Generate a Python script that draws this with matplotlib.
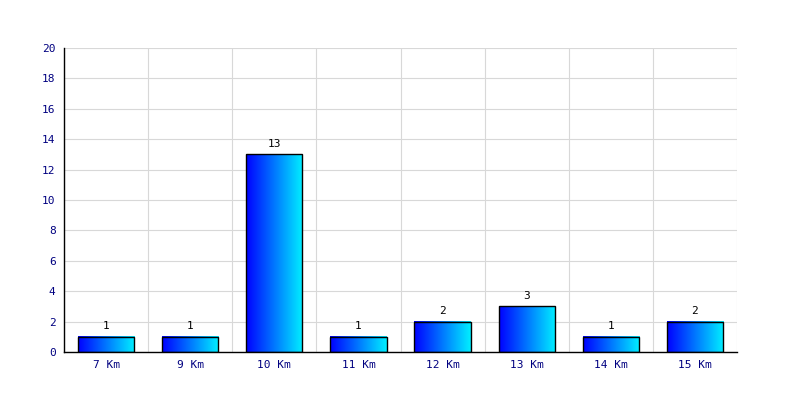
import numpy as np
import matplotlib
matplotlib.use("Agg")
import matplotlib.pyplot as plt
from matplotlib.colors import LinearSegmentedColormap

categories = ["7 Km", "9 Km", "10 Km", "11 Km", "12 Km", "13 Km", "14 Km", "15 Km"]
values = [1, 1, 13, 1, 2, 3, 1, 2]
yticks = list(range(0, 21, 2))

plt.rcParams['font.family'] = ['DejaVu Sans Mono']

fig = plt.figure(figsize=(8, 4), dpi=100)
ax = fig.add_axes([0.08, 0.12, 0.84125, 0.76])

x = np.arange(len(categories))
bar_w = 0.67
cmap = LinearSegmentedColormap.from_list("bluecyan", ["#0000ff", "#00f0ff"])
grad = np.linspace(0, 1, 256).reshape(1, -1)

# light grid behind everything
for gy in yticks:
    ax.axhline(gy, color="#d8d8d8", lw=0.8, zorder=0)
for gx in np.arange(-0.5, len(categories), 1):
    ax.axvline(gx, color="#d8d8d8", lw=0.8, zorder=0)

bars = ax.bar(x, values, width=bar_w, facecolor="none", edgecolor="black", lw=1.0, zorder=3)
for b, v in zip(bars, values):
    x0 = b.get_x()
    ax.imshow(grad, cmap=cmap, aspect="auto", extent=[x0, x0 + bar_w, 0, v], zorder=2)
    ax.text(b.get_x() + bar_w / 2, v + 0.35, str(v), ha="center", va="bottom", fontsize=8, color="black")

ax.set_xlim(-0.5, len(categories) - 0.5)
ax.set_ylim(0, 20)
ax.set_xticks(x)
ax.set_xticklabels(categories)
ax.set_yticks(yticks)
ax.tick_params(length=0, labelsize=8, labelcolor="#000080", pad=6)
for s in ["top", "right"]:
    ax.spines[s].set_visible(False)
ax.spines["left"].set_linewidth(1.0)
ax.spines["bottom"].set_linewidth(1.0)

fig.savefig("out.png", dpi=100)
